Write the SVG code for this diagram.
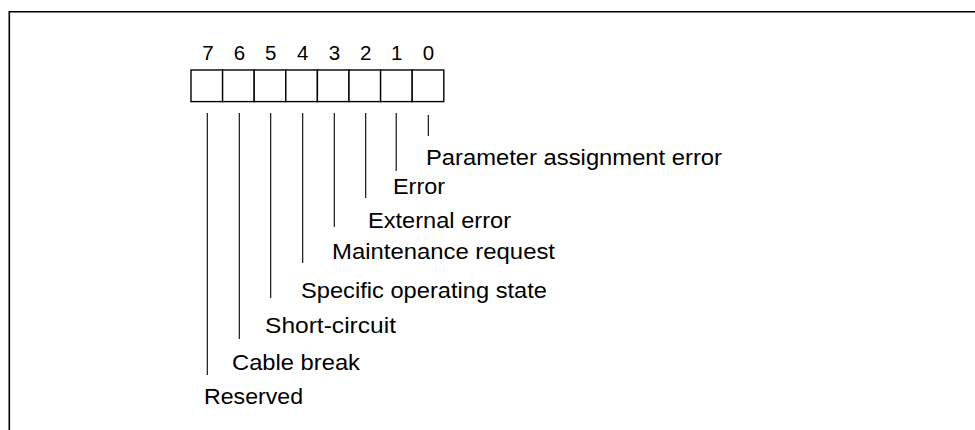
<svg xmlns="http://www.w3.org/2000/svg" width="975" height="430" viewBox="0 0 975 430">
<style>
.frame{fill:none;stroke:#000;stroke-width:1.6}
.cell{fill:#fff;stroke:#000;stroke-width:1.4}
.lead{stroke:#000;stroke-width:1.1;fill:none}
.lbl{font-family:"Liberation Sans",Arial,sans-serif;font-size:22.5px;fill:#000}
.dig{font-family:"Liberation Sans",Arial,sans-serif;font-size:20.5px;fill:#000;text-anchor:middle}
</style>
<rect width="975" height="430" fill="#fff"/>
<path class="frame" d="M9.3 430 V11.7 H975"/>
<g id="register">
<rect class="cell" x="191" y="70" width="31.6" height="31.6"/>
<rect class="cell" x="222.6" y="70" width="31.6" height="31.6"/>
<rect class="cell" x="254.2" y="70" width="31.6" height="31.6"/>
<rect class="cell" x="285.8" y="70" width="31.6" height="31.6"/>
<rect class="cell" x="317.4" y="70" width="31.6" height="31.6"/>
<rect class="cell" x="349" y="70" width="31.6" height="31.6"/>
<rect class="cell" x="380.6" y="70" width="31.6" height="31.6"/>
<rect class="cell" x="412.2" y="70" width="31.6" height="31.6"/>
<text class="dig" x="208" y="60">7</text>
<text class="dig" x="239.4" y="60">6</text>
<text class="dig" x="270.6" y="60">5</text>
<text class="dig" x="302.6" y="60">4</text>
<text class="dig" x="334.4" y="60">3</text>
<text class="dig" x="365.8" y="60">2</text>
<text class="dig" x="396.6" y="60">1</text>
<text class="dig" x="428.4" y="60">0</text>
</g>
<g id="connectors">
<line class="lead" x1="207.3" y1="113" x2="207.3" y2="375"/>
<line class="lead" x1="239.3" y1="113" x2="239.3" y2="339"/>
<line class="lead" x1="270.7" y1="113" x2="270.7" y2="298"/>
<line class="lead" x1="302.7" y1="113" x2="302.7" y2="263"/>
<line class="lead" x1="334.3" y1="113" x2="334.3" y2="227"/>
<line class="lead" x1="365.7" y1="113" x2="365.7" y2="198"/>
<line class="lead" x1="396.2" y1="113" x2="396.2" y2="171"/>
<line class="lead" x1="428.3" y1="115" x2="428.3" y2="136"/>
</g>
<g id="bit0"><text class="lbl" x="426" y="165" textLength="296" lengthAdjust="spacingAndGlyphs">Parameter assignment error</text></g>
<g id="bit1"><text class="lbl" x="393" y="194" textLength="52" lengthAdjust="spacingAndGlyphs">Error</text></g>
<g id="bit2"><text class="lbl" x="368" y="228" textLength="143" lengthAdjust="spacingAndGlyphs">External error</text></g>
<g id="bit3"><text class="lbl" x="332" y="259" textLength="223" lengthAdjust="spacingAndGlyphs">Maintenance request</text></g>
<g id="bit4"><text class="lbl" x="301" y="298" textLength="246" lengthAdjust="spacingAndGlyphs">Specific operating state</text></g>
<g id="bit5"><text class="lbl" x="265" y="333" textLength="131" lengthAdjust="spacingAndGlyphs">Short‑circuit</text></g>
<g id="bit6"><text class="lbl" x="232" y="370" textLength="128" lengthAdjust="spacingAndGlyphs">Cable break</text></g>
<g id="bit7"><text class="lbl" x="204" y="404" textLength="99" lengthAdjust="spacingAndGlyphs">Reserved</text></g>
</svg>
